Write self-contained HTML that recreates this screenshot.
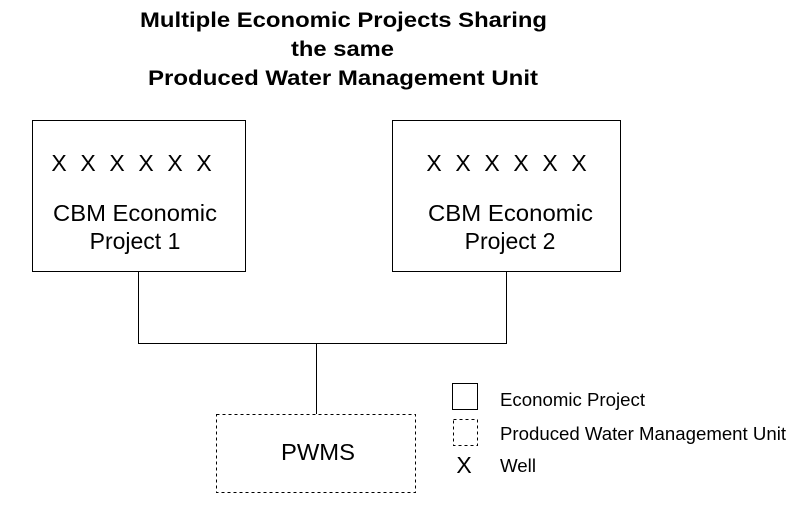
<!DOCTYPE html>
<html><head><meta charset="utf-8"><style>
html,body{margin:0;padding:0;background:#fff;}
svg{display:block;}
text{font-family:"Liberation Sans",sans-serif;fill:#000;}
</style></head><body>
<svg width="803" height="519" viewBox="0 0 803 519" xmlns="http://www.w3.org/2000/svg">
<text x="140" y="27" font-size="21" font-weight="bold" textLength="407" lengthAdjust="spacingAndGlyphs">Multiple Economic Projects Sharing</text>
<text x="291" y="56" font-size="21" font-weight="bold" textLength="103" lengthAdjust="spacingAndGlyphs">the same</text>
<text x="148" y="85" font-size="21" font-weight="bold" textLength="390" lengthAdjust="spacingAndGlyphs">Produced Water Management Unit</text>
<rect x="32.5" y="120.5" width="213" height="151" fill="none" stroke="#000" stroke-width="1"/>
<rect x="392.5" y="120.5" width="228" height="151" fill="none" stroke="#000" stroke-width="1"/>
<g font-size="23" text-anchor="middle">
<text x="59" y="171">X</text><text x="88" y="171">X</text><text x="117" y="171">X</text><text x="146" y="171">X</text><text x="175" y="171">X</text><text x="204" y="171">X</text>
<text x="434" y="171">X</text><text x="463" y="171">X</text><text x="492" y="171">X</text><text x="521" y="171">X</text><text x="550" y="171">X</text><text x="579" y="171">X</text>
</g>
<text x="53" y="221" font-size="23" textLength="164" lengthAdjust="spacingAndGlyphs">CBM Economic</text>
<text x="135" y="249" font-size="23" text-anchor="middle">Project 1</text>
<text x="428" y="221" font-size="23" textLength="165" lengthAdjust="spacingAndGlyphs">CBM Economic</text>
<text x="510" y="249" font-size="23" text-anchor="middle">Project 2</text>
<path d="M138.5 272 V343.5 H506.5 V272 M316.5 343.5 V414" fill="none" stroke="#000" stroke-width="1"/>
<rect x="216.5" y="414.5" width="199" height="78" fill="none" stroke="#000" stroke-width="1" stroke-dasharray="3,3"/>
<text x="281" y="460" font-size="23" textLength="74" lengthAdjust="spacingAndGlyphs">PWMS</text>
<rect x="452.5" y="383.5" width="25" height="26" fill="none" stroke="#000" stroke-width="1"/>
<rect x="453.5" y="419.5" width="24" height="26" fill="none" stroke="#000" stroke-width="1" stroke-dasharray="3,3"/>
<text x="464" y="473" font-size="23" text-anchor="middle">X</text>
<text x="500" y="406" font-size="18" textLength="145" lengthAdjust="spacingAndGlyphs">Economic Project</text>
<text x="500" y="440" font-size="18" textLength="286" lengthAdjust="spacingAndGlyphs">Produced Water Management Unit</text>
<text x="500" y="472" font-size="18" textLength="36" lengthAdjust="spacingAndGlyphs">Well</text>
</svg>
</body></html>
